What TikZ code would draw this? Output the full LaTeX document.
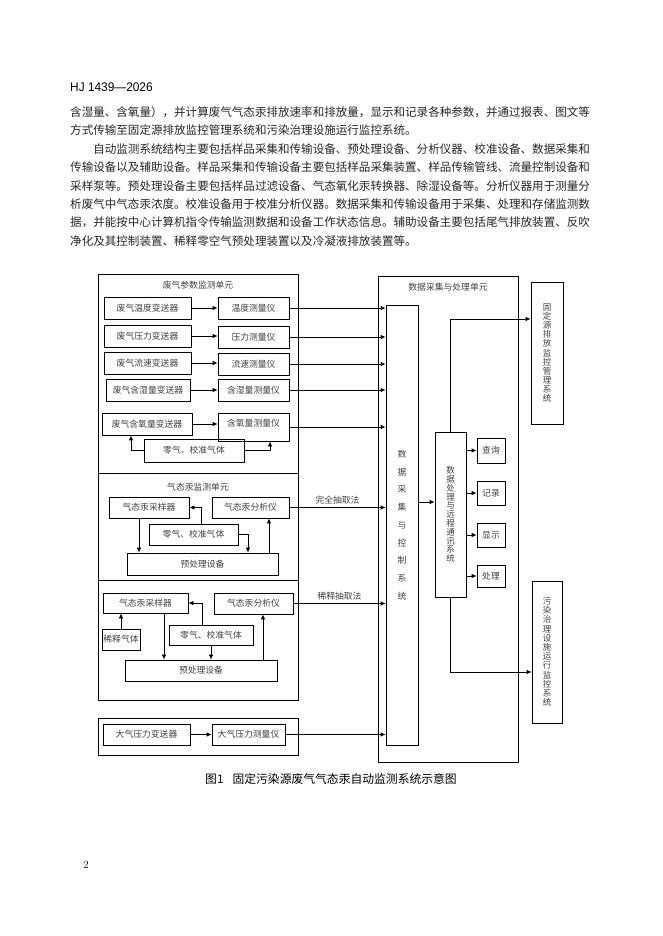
\documentclass[tikz,border=0pt]{standalone}
\usepackage{fontspec}
\usepackage{tikz}
\usetikzlibrary{arrows.meta, calc}
\newfontfamily\cjk{Noto Sans CJK SC}
\newfontfamily\hdfont{Liberation Sans}
\colorlet{boxtext}{black!75}
\colorlet{bodytext}{black!85}
\tikzset{
  devbox/.style={draw=black, line width=0.8pt, inner sep=0pt, align=center,
    font=\cjk\fontsize{8.8}{10}\selectfont, text=boxtext},
  unitbox/.style={draw=black, line width=0.8pt, inner sep=0pt},
  flow/.style={-{Latex[length=5pt,width=4.5pt]}, line width=0.8pt},
  bodyline/.style={anchor=west, inner sep=0pt, font=\cjk\fontsize{11.55}{13}\selectfont, text=bodytext},
  unittitle/.style={inner sep=0pt, font=\cjk\fontsize{8.8}{10}\selectfont, text=boxtext},
}
% box from its corners: [style]{name}{x1}{y1}{x2}{y2}{text}
\newcommand{\bx}[7][devbox]{%
  \node[#1, minimum width={(#5-#3)*1pt}, minimum height={(#6-#4)*1pt}] (#2) at ({(#3+#5)/2},{(#4+#6)/2}) {#7};}

\begin{document}
\begin{tikzpicture}[x=1pt, y=-1pt]
    \useasboundingbox (0,0) rectangle (662,936);
    % page text
    \node[anchor=west, inner sep=0pt, font=\hdfont\fontsize{12.5}{14}\selectfont] (hdr) at (70,87) {\scalebox{0.95}[1]{HJ 1439—2026}};
    \node[bodyline] (l1) at (70,112) {含湿量、含氧量），并计算废气气态汞排放速率和排放量，显示和记录各种参数，并通过报表、图文等};
    \node[bodyline] (l2) at (70,130.4) {方式传输至固定源排放监控管理系统和污染治理设施运行监控系统。};
    \node[bodyline] (l3) at (93.1,148.8) {自动监测系统结构主要包括样品采集和传输设备、预处理设备、分析仪器、校准设备、数据采集和};
    \node[bodyline] (l4) at (70,167.2) {传输设备以及辅助设备。样品采集和传输设备主要包括样品采集装置、样品传输管线、流量控制设备和};
    \node[bodyline] (l5) at (70,185.6) {采样泵等。预处理设备主要包括样品过滤设备、气态氧化汞转换器、除湿设备等。分析仪器用于测量分};
    \node[bodyline] (l6) at (70,204) {析废气中气态汞浓度。校准设备用于校准分析仪器。数据采集和传输设备用于采集、处理和存储监测数};
    \node[bodyline] (l7) at (70,222.4) {据，并能按中心计算机指令传输监测数据和设备工作状态信息。辅助设备主要包括尾气排放装置、反吹};
    \node[bodyline] (l8) at (70,240.8) {净化及其控制装置、稀释零空气预处理装置以及冷凝液排放装置等。};

    % flue gas parameter unit
    \bx[unitbox]{unitA}{98}{274}{298}{473}{}
    \node[unittitle] (titleA) at (198,285) {废气参数监测单元};
    \bx{tTemp}{104}{297}{191}{319}{废气温度变送器}
    \bx{mTemp}{218}{297}{289}{319}{温度测量仪}
    \bx{tPres}{104}{325}{191}{347}{废气压力变送器}
    \bx{mPres}{218}{326}{289}{348}{压力测量仪}
    \bx{tFlow}{104}{352}{191}{374}{废气流速变送器}
    \bx{mFlow}{218}{353}{289}{375}{流速测量仪}
    \bx{tHum}{106}{379}{190}{401}{废气含湿量变送器}
    \bx{mHum}{218}{379}{289}{401}{含湿量测量仪}
    \bx{tOxy}{102}{413}{192}{435}{废气含氧量变送器}
    \bx[devbox, text depth=9pt]{mOxy}{218}{413}{289}{441}{含氧量测量仪}
    \bx{zeroA}{144}{439}{244}{462}{零气、校准气体}
    \draw[flow] (tTemp) -- (mTemp);
    \draw[flow] (tPres.east) -- (tPres.east -| mPres.west);
    \draw[flow] (tFlow.east) -- (tFlow.east -| mFlow.west);
    \draw[flow] (tHum) -- (mHum);
    \draw[flow] (tOxy.east) -- (tOxy.east -| mOxy.west);
    \draw[flow] (zeroA.west) -| ([xshift=-16pt]tOxy.south);
    \draw[flow] (zeroA.east) -| ([xshift=16.5pt]mOxy.south);

    % full extraction
    \bx[unitbox]{unitB}{98}{473}{298}{580}{}
    \node[unittitle] (titleB) at (198,487) {气态汞监测单元};
    \bx{smpB}{109}{497}{189}{518}{气态汞采样器}
    \bx{anaB}{212}{497}{289}{518}{气态汞分析仪}
    \bx{zeroB}{149}{524}{238}{545}{零气、校准气体}
    \bx{preB}{127}{553}{278}{575}{预处理设备}
    \draw[flow] ([xshift=-10pt]smpB.south) -- ([xshift=-10pt]smpB.south |- preB.north);
    \draw[flow] ([xshift=7.5pt]zeroB.north) |- (smpB.east);
    \draw[flow] (zeroB.east) -| ([xshift=45.5pt]preB.north);
    \draw[flow] ([xshift=18.5pt]anaB.south |- preB.north) -- ([xshift=18.5pt]anaB.south);

    % dilution extraction
    \bx[unitbox]{unitC}{98}{580}{298}{700}{}
    \bx{smpC}{103}{593}{188}{613}{气态汞采样器}
    \bx{anaC}{214}{593}{293}{614}{气态汞分析仪}
    \bx{dilC}{102}{629}{140}{650}{稀释气体}
    \bx{zeroC}{169}{625}{253}{645}{零气、校准气体}
    \bx{preC}{125}{660}{277}{681}{预处理设备}
    \draw[flow] (dilC.north) -- (dilC.north |- smpC.south);
    \draw[flow] ([xshift=18.5pt]smpC.south) -- ([xshift=18.5pt]smpC.south |- preC.north);
    \draw[flow] ([xshift=-9pt]zeroC.north) |- (smpC.east);
    \draw[flow] (zeroC.south) -- (zeroC.south |- preC.north);
    \draw[flow] ([xshift=9.5pt]anaC.south |- preC.north) -- ([xshift=9.5pt]anaC.south);

    % ambient pressure
    \bx[unitbox]{unitD}{98}{718}{298}{755}{}
    \bx{tAtm}{103}{724}{190}{745}{大气压力变送器}
    \bx{mAtm}{212}{724}{285}{745}{大气压力测量仪}
    \draw[flow] (tAtm) -- (mAtm);

    % data acquisition and processing unit
    \bx[unitbox]{daq}{378}{276}{518}{762}{}
    \node[unittitle] (titleD) at (448,287) {数据采集与处理单元};
    \bx[devbox, font=\cjk\fontsize{8.8}{17.7}\selectfont]{dacq}{386}{305}{418}{745}{数\\据\\采\\集\\与\\控\\制\\系\\统}
    \bx[devbox, font=\cjk\fontsize{8.5}{8.8}\selectfont]{dproc}{435}{432}{466}{597}{数\\据\\处\\理\\与\\远\\程\\通\\讯\\系\\统}
    \bx{qry}{477}{438}{505}{463}{查询}
    \bx{rec}{477}{481}{505}{505}{记录}
    \bx{shw}{477}{523}{505}{547}{显示}
    \bx{hdl}{477}{565}{505}{587}{处理}
    \bx[devbox, font=\cjk\fontsize{8.5}{9.1}\selectfont]{fix}{531}{282}{563}{424}{固\\定\\源\\排\\放\\监\\控\\管\\理\\系\\统}
    \bx[devbox, font=\cjk\fontsize{8.5}{9.2}\selectfont]{pol}{532}{581}{562}{723}{污\\染\\治\\理\\设\\施\\运\\行\\监\\控\\系\\统}

    % signals into the acquisition system
    \draw[flow] (mTemp.east) -- (mTemp.east -| dacq.west);
    \draw[flow] (mPres.east) -- (mPres.east -| dacq.west);
    \draw[flow] (mFlow.east) -- (mFlow.east -| dacq.west);
    \draw[flow] (mHum.east) -- (mHum.east -| dacq.west);
    \draw[flow] (mOxy.east) -- (mOxy.east -| dacq.west);
    \draw[flow] (anaB.east) -- (anaB.east -| dacq.west)
      node[midway, above=3pt, unittitle] (lblB) {完全抽取法};
    \draw[flow] (anaC.east) -- (anaC.east -| dacq.west)
      node[midway, above=3pt, unittitle] (lblC) {稀释抽取法};
    \draw[flow] (mAtm.east) -- (mAtm.east -| dacq.west);
    \draw[flow] ([yshift=12.5pt]dproc.west -| dacq.east) -- ([yshift=12.5pt]dproc.west);
    \draw[flow] (qry.west -| dproc.east) -- (qry.west);
    \draw[flow] (rec.west -| dproc.east) -- (rec.west);
    \draw[flow] (shw.west -| dproc.east) -- (shw.west);
    \draw[flow] (hdl.west -| dproc.east) -- (hdl.west);
    \draw[flow] (dproc.north) |- ([yshift=34pt]fix.west);
    \draw[flow] (dproc.south) |- ([yshift=-20pt]pol.west);

    % caption and page number
    \node[inner sep=0pt, font=\cjk\fontsize{11.8}{13}\selectfont] (cap) at (331,779) {图1\hspace{9pt}固定污染源废气气态汞自动监测系统示意图};
    \node[inner sep=0pt, font=\fontsize{11}{13}\selectfont] (pg) at (86,865) {2};
\end{tikzpicture}
\end{document}
